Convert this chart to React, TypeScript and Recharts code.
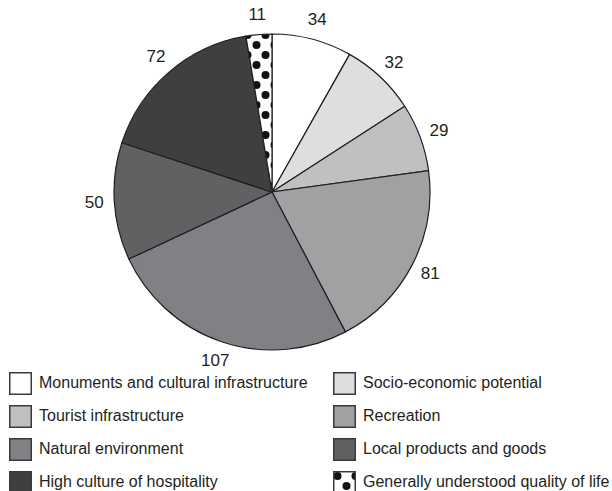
import { PieChart, Pie, Cell } from "recharts";

// Data
const categories = [
  "Monuments and cultural infrastructure",
  "Socio-economic potential",
  "Tourist infrastructure",
  "Recreation",
  "Natural environment",
  "Local products and goods",
  "High culture of hospitality",
  "Generally understood quality of life",
];
const counts = [34, 32, 29, 81, 107, 50, 72, 11];

// Style
const fills = [
  "#ffffff",
  "#dedede",
  "#bfc0c2",
  "#a0a1a3",
  "#808184",
  "#606163",
  "#3f3f40",
  "url(#dots)",
];
const legendFills = fills.map((f) => (f === "url(#dots)" ? "url(#dotsLegend)" : f));
const INK = "#231f20";
const FONT = "'Liberation Sans', Arial, sans-serif";
const RAD = Math.PI / 180;

const data = categories.map((name, i) => ({ name, value: counts[i] }));

function DotsPattern({ id }: { id: string }) {
  return (
    <pattern id={id} width={18} height={20} patternUnits="userSpaceOnUse">
      <rect width={18} height={20} fill="#ffffff" />
      <circle cx={4.5} cy={5} r={4} fill="#111" />
      <circle cx={13.5} cy={15} r={4} fill="#111" />
    </pattern>
  );
}

function renderLabel(props: any) {
  const { cx, cy, midAngle, outerRadius, value } = props;
  const r = outerRadius + 20;
  const x = cx + r * Math.cos(-midAngle * RAD);
  const y = cy + r * Math.sin(-midAngle * RAD);
  return (
    <text
      x={x}
      y={y}
      textAnchor="middle"
      dominantBaseline="central"
      fill={INK}
      fontSize={17}
      fontFamily={FONT}
    >
      {value}
    </text>
  );
}

function Legend() {
  return (
    <div
      style={{
        position: "absolute",
        left: 9,
        top: 372,
        display: "grid",
        gridTemplateColumns: "324px 280px",
        rowGap: 11,
        fontFamily: FONT,
        fontSize: 16,
        color: INK,
      }}
    >
      {categories.map((name, i) => (
        <div key={name} style={{ display: "flex", alignItems: "center", height: 22 }}>
          <svg width={23} height={23} style={{ marginRight: 7, flex: "none" }}>
            <defs>
              <DotsPattern id="dotsLegend" />
            </defs>
            <rect
              x={0.75}
              y={0.75}
              width={21.5}
              height={21.5}
              fill={legendFills[i]}
              stroke="#3a3a3a"
              strokeWidth={1.5}
            />
          </svg>
          <span style={{ whiteSpace: "nowrap" }}>{name}</span>
        </div>
      ))}
    </div>
  );
}

export default function App() {
  return (
    <div
      style={{
        position: "absolute",
        left: 0,
        top: 0,
        width: 612,
        height: 491,
        background: "#ffffff",
        overflow: "hidden",
      }}
    >
      <PieChart
        width={612}
        height={372}
        margin={{ top: 0, right: 0, bottom: 0, left: 0 }}
      >
        <defs>
          <DotsPattern id="dots" />
        </defs>
        <Pie
          data={data}
          dataKey="value"
          cx={272}
          cy={192}
          outerRadius={158}
          startAngle={90}
          endAngle={-270}
          stroke={INK}
          strokeWidth={1.2}
          label={renderLabel}
          labelLine={false}
          isAnimationActive={false}
        >
          {data.map((entry, i) => (
            <Cell key={`cell-${i}`} fill={fills[i]} />
          ))}
        </Pie>
      </PieChart>
      <Legend />
    </div>
  );
}
